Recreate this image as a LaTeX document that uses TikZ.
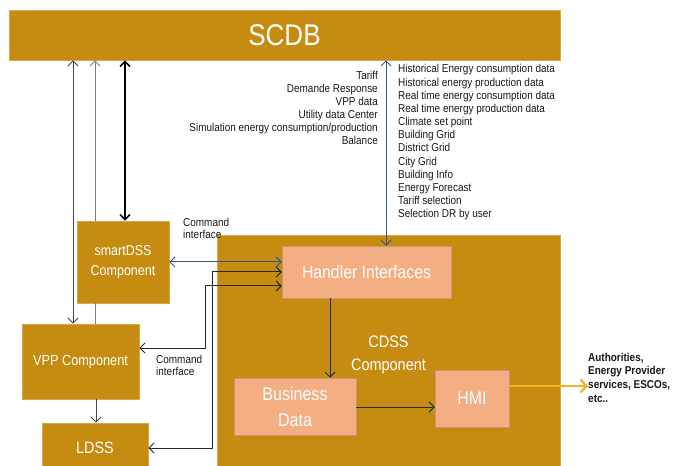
\documentclass[tikz,border=0pt]{standalone}
\usepackage{fontspec}
\setmainfont{Liberation Sans}[FakeStretch=0.87]
\usetikzlibrary{arrows.meta}

\definecolor{boxgold}{RGB}{197,140,17}
\definecolor{boxsalmon}{RGB}{244,174,132}
\definecolor{linkblue}{RGB}{58,84,140}
\definecolor{linknavy}{RGB}{35,45,70}
\definecolor{outorange}{RGB}{245,178,40}
\definecolor{wiregray}{RGB}{70,70,70}

\tikzset{
  barb/.tip={Straight Barb[length=5bp,width=10bp]},
  goldbox/.style={rectangle, fill=boxgold, draw=boxgold!75!white, line width=0.6bp,
    text=white, inner sep=0pt, align=center},
  salmonbox/.style={rectangle, fill=boxsalmon, draw=boxsalmon!85!black, line width=0.5bp,
    text=white, inner sep=0pt, align=center},
  link/.style={line width=1bp, -{barb}},
  twoway/.style={line width=1bp, {barb}-{barb}},
  smalltext/.style={inner sep=0pt, text=black!90, font=\fontsize{11.5}{13}\selectfont},
}

\begin{document}
\begin{tikzpicture}[x=1bp,y=-1bp]
\useasboundingbox (0,0) rectangle (680,466);
\clip (0,0) rectangle (680,466);

% database bar and component boxes
\node[goldbox, minimum width=551bp, minimum height=50bp, font=\fontsize{30}{30}\selectfont]
  (scdb) at (284.5,35) {SCDB};
\node[goldbox, minimum width=343bp, minimum height=240bp, font=\fontsize{16.7}{23}\selectfont]
  (cdss) at (388.5,355) {CDSS\\Component};
\node[salmonbox, minimum width=169bp, minimum height=52bp, font=\fontsize{18.2}{22}\selectfont]
  (handler) at (366.5,272) {Handler Interfaces};
\node[salmonbox, minimum width=122bp, minimum height=57bp, font=\fontsize{18.5}{26}\selectfont]
  (business) at (295,406.5) {Business\\Data};
\node[salmonbox, minimum width=74bp, minimum height=57bp, font=\fontsize{18.3}{22}\selectfont]
  (hmi) at (472,398.5) {HMI};
\node[goldbox, minimum width=92bp, minimum height=82bp, font=\fontsize{14.4}{20}\selectfont]
  (smart) at (123,262) {smartDSS\\Component};
\node[goldbox, minimum width=117bp, minimum height=75bp, font=\fontsize{14.7}{18}\selectfont]
  (vpp) at (80.5,361.5) {VPP Component};
\node[goldbox, minimum width=106bp, minimum height=50bp, font=\fontsize{16.6}{20}\selectfont]
  (ldss) at (95,448) {LDSS};

% data lists exchanged with the database
\node[smalltext, anchor=north east, align=right] (outlist) at (378,71.5)
  {Tariff\\Demande Response\\VPP data\\Utility data Center\\Simulation energy consumption/production\\Balance};
\node[smalltext, anchor=north west, align=left, font=\fontsize{11.5}{13.2}\selectfont] (inlist) at (398,64.5)
  {Historical Energy consumption data\\Historical energy production data\\Real time energy consumption data\\Real time energy production data\\Climate set point\\Building Grid\\District Grid\\City Grid\\Building Info\\Energy Forecast\\Tariff selection\\Selection DR by user};

\node[smalltext, anchor=north west, align=left] (cmdone) at (183,217.5) {Command\\interface};
\node[smalltext, anchor=north west, align=left] (cmdtwo) at (156,354.5) {Command\\interface};
\node[smalltext, anchor=west, align=left, font=\bfseries\fontsize{11.5}{13.7}\selectfont]
  (actors) at (588,377.5) {Authorities,\\Energy Provider\\services, ESCOs,\\etc..};

% routing guides
\coordinate (xa) at (73,0);
\coordinate (xb) at (95,0);
\coordinate (xc) at (125,0);
\coordinate (xd) at (386,0);
\coordinate (xe) at (205,0);
\coordinate (xf) at (212,0);
\coordinate (xg) at (330,0);
\coordinate (xh) at (96,0);
\coordinate (yb) at (0,272);
\coordinate (yc) at (0,286);
\coordinate (yd) at (0,348);
\coordinate (ye) at (0,407);
\coordinate (yf) at (0,386);

% connectors
\draw[twoway, draw=wiregray] (xa |- scdb.south) -- (xa |- vpp.north);
\draw[link, draw=wiregray!70] (xb |- smart.north) -- (xb |- scdb.south);
\draw[draw=wiregray!70, line width=1bp] (xb |- vpp.north) -- (xb |- smart.south);
\draw[link, draw=wiregray] (xh |- vpp.south) -- (xh |- ldss.north);
\draw[twoway, line width=1.6bp, black] (xc |- scdb.south) -- (xc |- smart.north);
\draw[twoway, linkblue] (xd |- scdb.south) -- (xd |- handler.north);
\draw[twoway, linkblue] (smart.east) -- (smart.east -| handler.west);
\draw[twoway, black!85] (ldss.east) -| (xf |- yb) -- (handler.west |- yb);
\draw[twoway, black!85] (vpp.east |- yd) -| (xe |- yc) -- (handler.west |- yc);
\draw[link, linknavy] (xg |- handler.south) -- (xg |- business.north);
\draw[link, linknavy] (business.east |- ye) -- (hmi.west |- ye);
\draw[outorange, line width=2.2bp, -{Straight Barb[length=6bp,width=13bp]}]
  (hmi.east |- yf) -- (actors.west |- yf);
\end{tikzpicture}
\end{document}
